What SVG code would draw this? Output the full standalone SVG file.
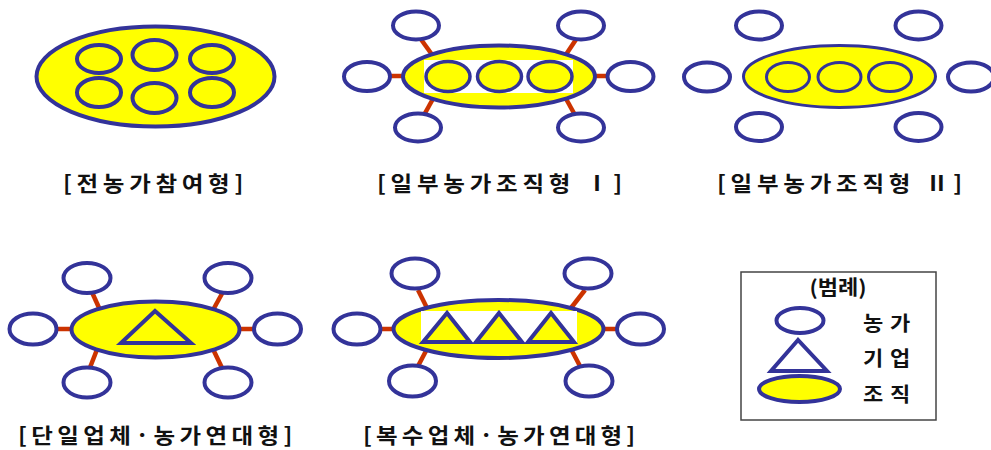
<svg xmlns="http://www.w3.org/2000/svg" width="991" height="450" viewBox="0 0 991 450">
  <style>
    .farm { fill: #ffffff; stroke: #333399; stroke-width: 4; }
    .org { fill: #ffff00; stroke: #333399; stroke-width: 4; }
    .org-thin { fill: #ffff00; stroke: #333399; stroke-width: 3; }
    .member { fill: #ffff00; stroke: #333399; stroke-width: 3.5; }
    .firm { fill: #ffff00; stroke: #333399; stroke-width: 4; stroke-linejoin: miter; }
    .link { stroke: #cc3300; stroke-width: 4.5; fill: none; }
    .label { font-family: "Noto Sans CJK KR", "Noto Sans", sans-serif; font-weight: bold; font-size: 21px; fill: #111111; }
    .legend-text { font-family: "Noto Sans CJK KR", "Noto Sans", sans-serif; font-weight: bold; font-size: 20px; fill: #111111; }
  </style>
  <rect width="991" height="450" fill="#ffffff"/>

  <!-- connectors: short red spokes between the organisation and its farms -->
  <g id="connectors">
    <line class="link" x1="420" y1="38" x2="433" y2="56"/>
    <line class="link" x1="577" y1="38" x2="565" y2="56"/>
    <line class="link" x1="388" y1="76" x2="408" y2="76"/>
    <line class="link" x1="592" y1="76" x2="610" y2="76"/>
    <line class="link" x1="434" y1="97" x2="424" y2="115"/>
    <line class="link" x1="565" y1="97" x2="575" y2="115"/>

    <line class="link" x1="91" y1="290" x2="100" y2="310"/>
    <line class="link" x1="224" y1="290" x2="213" y2="310"/>
    <line class="link" x1="54" y1="329" x2="76" y2="329"/>
    <line class="link" x1="236" y1="329" x2="256" y2="329"/>
    <line class="link" x1="98" y1="347" x2="89" y2="370"/>
    <line class="link" x1="212" y1="347" x2="223" y2="370"/>

    <line class="link" x1="418" y1="290" x2="427" y2="308"/>
    <line class="link" x1="585" y1="290" x2="571" y2="308"/>
    <line class="link" x1="378" y1="329" x2="397" y2="329"/>
    <line class="link" x1="600" y1="329" x2="620" y2="329"/>
    <line class="link" x1="427" y1="349" x2="417" y2="368"/>
    <line class="link" x1="571" y1="349" x2="581" y2="368"/>
  </g>

  <!-- all farms participate -->
  <g id="all-farms">
    <ellipse class="org" cx="155.5" cy="76.5" rx="119" ry="50"/>
    <ellipse class="org" cx="99" cy="59" rx="22" ry="14"/>
    <ellipse class="org" cx="154.5" cy="55" rx="22" ry="15"/>
    <ellipse class="org" cx="212" cy="59" rx="22" ry="14"/>
    <ellipse class="org" cx="99" cy="92.5" rx="22" ry="14.5"/>
    <ellipse class="org" cx="154.5" cy="98" rx="22" ry="15"/>
    <ellipse class="org" cx="212" cy="92.5" rx="22" ry="14.5"/>
    <text class="label" transform="translate(63,191) scale(1.12,1)" textLength="161" lengthAdjust="spacing">[전농가참여형]</text>
  </g>

  <!-- some farms organised, type I -->
  <g id="partial-1">
    <ellipse class="org" cx="499" cy="76.5" rx="96" ry="31"/>
    <rect x="424" y="60" width="149" height="33" fill="#ffffff"/>
    <ellipse class="member" cx="448" cy="76.5" rx="22" ry="15"/>
    <ellipse class="member" cx="499.5" cy="76.5" rx="22" ry="15"/>
    <ellipse class="member" cx="550" cy="76.5" rx="22" ry="15"/>
    <ellipse class="farm" cx="416" cy="25.5" rx="23" ry="14"/>
    <ellipse class="farm" cx="581" cy="25.5" rx="23" ry="14"/>
    <ellipse class="farm" cx="367" cy="76.5" rx="23" ry="14.5"/>
    <ellipse class="farm" cx="630.5" cy="76.5" rx="23" ry="14.5"/>
    <ellipse class="farm" cx="418" cy="127.5" rx="23" ry="14"/>
    <ellipse class="farm" cx="581" cy="127.5" rx="23" ry="14"/>
    <text class="label" transform="translate(377,191) scale(1.12,1)" textLength="219" lengthAdjust="spacing">[일부농가조직형 Ⅰ]</text>
  </g>

  <!-- some farms organised, type II -->
  <g id="partial-2">
    <ellipse class="org-thin" cx="839.5" cy="76.5" rx="96" ry="31"/>
    <ellipse class="org-thin" cx="788" cy="77" rx="21.5" ry="14.5"/>
    <ellipse class="org-thin" cx="839.5" cy="77" rx="21.5" ry="14.5"/>
    <ellipse class="org-thin" cx="890" cy="77" rx="21.5" ry="14.5"/>
    <ellipse class="farm" cx="759" cy="25.5" rx="23" ry="14"/>
    <ellipse class="farm" cx="918.5" cy="25.5" rx="23" ry="14"/>
    <ellipse class="farm" cx="707" cy="77" rx="23" ry="14.5"/>
    <ellipse class="farm" cx="971" cy="77" rx="23" ry="14.5"/>
    <ellipse class="farm" cx="759" cy="127" rx="23" ry="14"/>
    <ellipse class="farm" cx="918.5" cy="127" rx="23" ry="14"/>
    <text class="label" transform="translate(717,191) scale(1.12,1)" textLength="219" lengthAdjust="spacing">[일부농가조직형 Ⅱ]</text>
  </g>

  <!-- single firm with farm alliance -->
  <g id="single-firm">
    <ellipse class="org" cx="155.5" cy="329.5" rx="84" ry="28"/>
    <polygon class="firm" points="155,311 121,343 191,343"/>
    <ellipse class="farm" cx="87" cy="278" rx="23.5" ry="15"/>
    <ellipse class="farm" cx="228" cy="278" rx="23.5" ry="15"/>
    <ellipse class="farm" cx="33" cy="329" rx="23.5" ry="15.5"/>
    <ellipse class="farm" cx="277.5" cy="329" rx="23.5" ry="15.5"/>
    <ellipse class="farm" cx="87" cy="382.5" rx="23.5" ry="15"/>
    <ellipse class="farm" cx="228" cy="382.5" rx="23.5" ry="15"/>
    <text class="label" transform="translate(18,443) scale(1.12,1)" textLength="245" lengthAdjust="spacing">[단일업체·농가연대형]</text>
  </g>

  <!-- multiple firms with farm alliance -->
  <g id="multi-firm">
    <ellipse class="org" cx="498.5" cy="329" rx="105" ry="29"/>
    <rect x="421" y="311" width="156" height="32" fill="#ffffff"/>
    <polygon class="firm" points="447,313 423,342 470,342"/>
    <polygon class="firm" points="499,313 476,342 522,342"/>
    <polygon class="firm" points="551,313 528,342 574,342"/>
    <ellipse class="farm" cx="415" cy="273.5" rx="23.5" ry="15"/>
    <ellipse class="farm" cx="588" cy="273.5" rx="23.5" ry="15"/>
    <ellipse class="farm" cx="357" cy="329" rx="23.5" ry="15.5"/>
    <ellipse class="farm" cx="640.5" cy="329" rx="23.5" ry="15.5"/>
    <ellipse class="farm" cx="412.5" cy="381" rx="23.5" ry="15.5"/>
    <ellipse class="farm" cx="589" cy="381" rx="23.5" ry="15.5"/>
    <text class="label" transform="translate(363,443) scale(1.12,1)" textLength="243" lengthAdjust="spacing">[복수업체·농가연대형]</text>
  </g>

  <!-- legend -->
  <g id="legend">
    <rect x="741" y="272" width="195" height="148" fill="#ffffff" stroke="#444444" stroke-width="1.5"/>
    <text class="legend-text" transform="translate(838,295) scale(1.1,1)" text-anchor="middle" font-size="18">(범례)</text>
    <ellipse class="farm" cx="800" cy="320.5" rx="23.5" ry="12.5"/>
    <polygon points="798,340 771,371 827,371" fill="#ffffff" stroke="#333399" stroke-width="4"/>
    <ellipse class="org" cx="799.5" cy="389" rx="40.5" ry="13"/>
    <text class="legend-text" transform="translate(863,331) scale(1.1,1)" textLength="43" lengthAdjust="spacing">농가</text>
    <text class="legend-text" transform="translate(863,366) scale(1.1,1)" textLength="43" lengthAdjust="spacing">기업</text>
    <text class="legend-text" transform="translate(863,402) scale(1.1,1)" textLength="43" lengthAdjust="spacing">조직</text>
  </g>
</svg>
